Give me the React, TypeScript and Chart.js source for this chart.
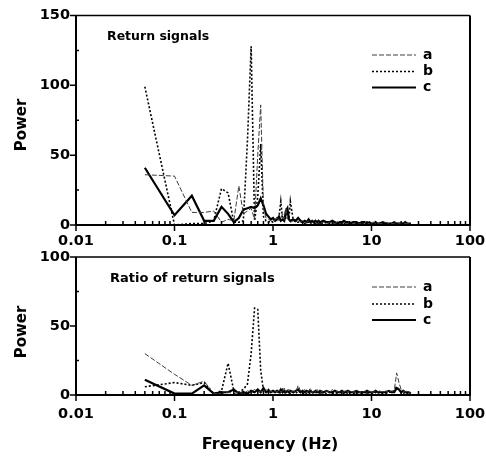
import React, { useEffect, useRef } from "react";
import { Chart, registerables } from "chart.js";

Chart.register(...registerables);

// Frequencies (Hz) of the spectral estimates
const FREQ = [
  0.05, 0.1, 0.15, 0.2, 0.25, 0.3, 0.35, 0.4, 0.45, 0.5,
  0.55, 0.6, 0.65, 0.7, 0.75, 0.8, 0.85, 0.9, 0.95, 1.0,
  1.05, 1.1, 1.15, 1.2, 1.25, 1.3, 1.35, 1.4, 1.45, 1.5,
  1.6, 1.7, 1.8, 1.9, 2.0, 2.1, 2.2, 2.3, 2.4, 2.5,
  2.6, 2.7, 2.8, 2.9, 3.0, 3.25, 3.5, 3.75, 4.0, 4.25,
  4.5, 4.75, 5.0, 5.25, 5.5, 5.75, 6.0, 6.5, 7, 7.5,
  8, 8.5, 9, 9.5, 10, 10.5, 11, 11.5, 12, 13,
  14, 15, 16, 17, 18, 19, 20, 21, 22, 23,
  24, 25,
];

// Top panel: Return signals
const TOP_A = [
  36, 35, 9, 9, 10, 2, 4, 3, 28, 8,
  10, 12, 4, 50, 86, 12, 5, 4, 3, 2,
  4, 6, 3, 5, 8, 4, 12, 5, 3, 2,
  3, 2, 4, 2, 3, 1, 2, 3, 1, 2,
  1, 2, 1, 2, 1, 2, 1, 2, 1, 1,
  2, 1, 1, 2, 1, 1, 2, 1, 2, 1,
  1, 2, 1, 1, 1, 2, 1, 1, 1, 1,
  2, 1, 1, 1, 2, 1, 1, 1, 1, 1,
  1, 1,
];
const TOP_B = [
  99, 0, 1, 1, 3, 26, 23, 2, 2, 3,
  60, 128, 3, 20, 58, 6, 3, 2, 3, 2,
  3, 4, 6, 17, 4, 3, 5, 9, 4, 17,
  4, 2, 2, 3, 2, 1, 2, 2, 1, 2,
  1, 1, 2, 1, 1, 1, 2, 1, 1, 1,
  2, 1, 1, 1, 1, 2, 1, 1, 1, 1,
  2, 1, 1, 1, 1, 1, 1, 1, 1, 1,
  1, 1, 1, 1, 1, 1, 1, 1, 1, 1,
  1, 1,
];
const TOP_C = [
  41, 7, 21, 3, 3, 13, 8, 2, 5, 11,
  12, 13, 12, 14, 19, 14, 8, 6, 4, 5,
  3, 4, 6, 3, 4, 3, 10, 12, 4, 3,
  4, 3, 5, 3, 2, 3, 2, 4, 2, 3,
  2, 3, 2, 3, 2, 3, 2, 2, 3, 2,
  1, 2, 2, 3, 2, 2, 1, 2, 2, 1,
  2, 2, 1, 2, 1, 1, 2, 1, 1, 2,
  1, 1, 1, 2, 1, 1, 1, 1, 2, 1,
  1, 1,
];

// Bottom panel: Ratio of return signals
const BOT_A = [
  30, 15, 7, 10, 1, 1, 2, 1, 2, 1,
  3, 2, 4, 2, 3, 2, 4, 2, 3, 2,
  3, 2, 4, 2, 3, 5, 2, 3, 4, 2,
  3, 2, 7, 3, 2, 4, 2, 3, 5, 2,
  3, 2, 4, 2, 3, 2, 3, 2, 4, 2,
  3, 2, 3, 2, 4, 2, 3, 2, 3, 2,
  2, 3, 2, 3, 2, 2, 3, 2, 3, 2,
  3, 2, 3, 3, 16, 9, 4, 3, 2, 3,
  2, 1,
];
const BOT_B = [
  6, 9, 7, 9, 1, 3, 23, 3, 2, 4,
  8, 30, 63, 62, 18, 3, 2, 4, 2, 3,
  2, 3, 1, 2, 4, 2, 1, 3, 2, 1,
  2, 1, 3, 2, 1, 2, 1, 2, 1, 2,
  1, 2, 1, 2, 1, 2, 1, 2, 1, 2,
  1, 2, 1, 1, 2, 1, 2, 1, 2, 1,
  1, 2, 1, 2, 1, 1, 2, 1, 2, 1,
  1, 2, 2, 3, 6, 4, 2, 1, 2, 1,
  1, 1,
];
const BOT_C = [
  11, 1, 1, 7, 1, 2, 2, 4, 1, 2,
  1, 3, 2, 4, 2, 5, 2, 3, 2, 3,
  2, 3, 2, 4, 2, 3, 2, 3, 2, 3,
  2, 3, 4, 2, 3, 2, 3, 2, 3, 2,
  2, 3, 2, 2, 3, 2, 3, 2, 2, 3,
  2, 2, 3, 2, 2, 3, 2, 2, 3, 2,
  2, 2, 3, 2, 2, 2, 3, 2, 2, 2,
  2, 3, 2, 2, 5, 4, 2, 3, 2, 2,
  2, 1,
];

const X_TICKS = [0.01, 0.1, 1, 10, 100];
const X_MINOR_MULT = [2, 3, 4, 5, 6, 7, 8, 9];
const SERIES_LABELS = ["a", "b", "c"];
const TOP_Y_TICKS = [0, 50, 100, 150];
const TOP_Y_MINOR = [25, 75, 125];
const BOT_Y_TICKS = [0, 50, 100];
const BOT_Y_MINOR = [25, 75];

const FONT = "DejaVu Sans";

const STYLES = [
  { color: "#3c3c3c", width: 1, dash: [5, 2] },
  { color: "#000000", width: 1.6, dash: [2, 2] },
  { color: "#000000", width: 2.2, dash: [] as number[] },
];

type Panel = {
  top: number;
  height: number;
  padTop: number;
  xAxisH: number;
  xPad: number;
  yMax: number;
  yTicks: number[];
  yMinor: number[];
  series: number[][];
  title: string;
  titleX: number;
  titleY: number;
  titleSize: number;
  legendY: number[];
  powerY: number;
  xTitle?: { text: string; x: number; y: number };
};

function overlayPlugin(p: Panel) {
  return {
    id: "overlay",
    afterDraw(chart: any) {
      const { ctx, chartArea: ca, scales } = chart;
      const xs = scales.x;
      const ys = scales.y;
      ctx.save();
      ctx.strokeStyle = "#000";
      ctx.setLineDash([]);
      // frame
      ctx.lineWidth = 2;
      ctx.beginPath();
      ctx.moveTo(ca.left, ca.top);
      ctx.lineTo(ca.left, ca.bottom);
      ctx.lineTo(ca.right, ca.bottom);
      ctx.lineTo(ca.right, ca.top);
      ctx.stroke();
      ctx.lineWidth = 1.5;
      ctx.beginPath();
      ctx.moveTo(ca.left, ca.top);
      ctx.lineTo(ca.right, ca.top);
      ctx.stroke();
      // x ticks
      ctx.lineWidth = 1.5;
      ctx.beginPath();
      for (const v of X_TICKS) {
        const px = xs.getPixelForValue(v);
        ctx.moveTo(px, ca.bottom);
        ctx.lineTo(px, ca.bottom + 6);
      }
      for (let i = 0; i < X_TICKS.length - 1; i++) {
        for (const m of X_MINOR_MULT) {
          const px = xs.getPixelForValue(X_TICKS[i] * m);
          ctx.moveTo(px, ca.bottom);
          ctx.lineTo(px, ca.bottom - 4);
        }
      }
      // y ticks
      for (const v of p.yTicks) {
        const py = ys.getPixelForValue(v);
        ctx.moveTo(ca.left - 6, py);
        ctx.lineTo(ca.left, py);
      }
      for (const v of p.yMinor) {
        const py = ys.getPixelForValue(v);
        ctx.moveTo(ca.left, py);
        ctx.lineTo(ca.left + 3, py);
      }
      ctx.stroke();

      // panel title
      ctx.fillStyle = "#000";
      ctx.font = `bold ${p.titleSize}px "${FONT}"`;
      ctx.textAlign = "left";
      ctx.textBaseline = "middle";
      ctx.fillText(p.title, p.titleX, p.titleY - p.top);

      // legend
      ctx.font = `bold 14px "${FONT}"`;
      for (let i = 0; i < 3; i++) {
        const st = STYLES[i];
        const ly = p.legendY[i] - p.top;
        ctx.strokeStyle = st.color;
        ctx.lineWidth = st.width;
        ctx.setLineDash(st.dash);
        ctx.beginPath();
        ctx.moveTo(372, ly);
        ctx.lineTo(416, ly);
        ctx.stroke();
        ctx.fillText(SERIES_LABELS[i], 423, ly);
      }
      ctx.setLineDash([]);

      // y title
      ctx.font = `bold 15px "${FONT}"`;
      ctx.textAlign = "center";
      ctx.save();
      ctx.translate(22, p.powerY - p.top);
      ctx.rotate(-Math.PI / 2);
      ctx.fillText("Power", 0, 0);
      ctx.restore();

      if (p.xTitle) {
        ctx.font = `bold 16px "${FONT}"`;
        ctx.textAlign = "center";
        ctx.fillText(p.xTitle.text, p.xTitle.x, p.xTitle.y - p.top);
      }
      ctx.restore();
    },
  };
}

function buildConfig(p: Panel): any {
  const tickFont = { family: FONT, weight: "bold" as const, size: 14.5 };
  return {
    type: "line",
    data: {
      datasets: p.series.map((vals, i) => ({
        label: SERIES_LABELS[i],
        data: FREQ.map((f, j) => ({ x: f, y: vals[j] })),
        borderColor: STYLES[i].color,
        borderWidth: STYLES[i].width,
        borderDash: STYLES[i].dash,
        pointRadius: 0,
        tension: 0,
        fill: false,
      })),
    },
    options: {
      responsive: false,
      animation: false,
      devicePixelRatio: 1,
      layout: { padding: { left: 0, right: 16, top: p.padTop, bottom: 0 } },
      plugins: {
        legend: { display: false },
        tooltip: { enabled: false },
        title: { display: false },
      },
      scales: {
        x: {
          type: "logarithmic",
          min: 0.01,
          max: 100,
          grid: { display: false, drawTicks: false },
          border: { display: false },
          ticks: {
            autoSkip: false,
            maxRotation: 0,
            padding: p.xPad,
            color: "#000",
            font: tickFont,
            callback: (v: number) => String(v),
          },
          afterBuildTicks: (s: any) => {
            s.ticks = X_TICKS.map((v) => ({ value: v }));
          },
          afterFit: (s: any) => {
            s.height = p.xAxisH;
            s.paddingLeft = 0;
            s.paddingRight = 0;
          },
        },
        y: {
          min: 0,
          max: p.yMax,
          grid: { display: false, drawTicks: false },
          border: { display: false },
          ticks: {
            stepSize: 50,
            padding: 6,
            color: "#000",
            font: tickFont,
          },
          afterFit: (s: any) => {
            s.width = 76;
            s.paddingTop = 0;
            s.paddingBottom = 0;
          },
        },
      },
    },
    plugins: [overlayPlugin(p)],
  };
}

const TOP_PANEL: Panel = {
  top: 0,
  height: 252,
  padTop: 15.5,
  xAxisH: 27,
  xPad: 8,
  yMax: 150,
  yTicks: TOP_Y_TICKS,
  yMinor: TOP_Y_MINOR,
  series: [TOP_A, TOP_B, TOP_C],
  title: "Return signals",
  titleX: 107,
  titleY: 37,
  titleSize: 12.5,
  legendY: [55, 71.5, 87.5],
  powerY: 125,
};

const BOT_PANEL: Panel = {
  top: 245,
  height: 214,
  padTop: 12,
  xAxisH: 64,
  xPad: 11,
  yMax: 100,
  yTicks: BOT_Y_TICKS,
  yMinor: BOT_Y_MINOR,
  series: [BOT_A, BOT_B, BOT_C],
  title: "Ratio of return signals",
  titleX: 110,
  titleY: 279,
  titleSize: 13,
  legendY: [287, 304, 320],
  powerY: 332,
  xTitle: { text: "Frequency (Hz)", x: 270, y: 445 },
};

function PanelChart({ panel }: { panel: Panel }) {
  const ref = useRef<HTMLCanvasElement>(null);
  useEffect(() => {
    if (!ref.current) return;
    const chart = new Chart(ref.current, buildConfig(panel));
    return () => chart.destroy();
  }, [panel]);
  return (
    <canvas
      ref={ref}
      width={486}
      height={panel.height}
      style={{
        position: "absolute",
        left: 0,
        top: panel.top,
        width: 486,
        height: panel.height,
      }}
    />
  );
}

export default function App() {
  return (
    <div
      style={{
        position: "absolute",
        left: 0,
        top: 0,
        width: 486,
        height: 459,
        background: "#fff",
      }}
    >
      <PanelChart panel={TOP_PANEL} />
      <PanelChart panel={BOT_PANEL} />
    </div>
  );
}
